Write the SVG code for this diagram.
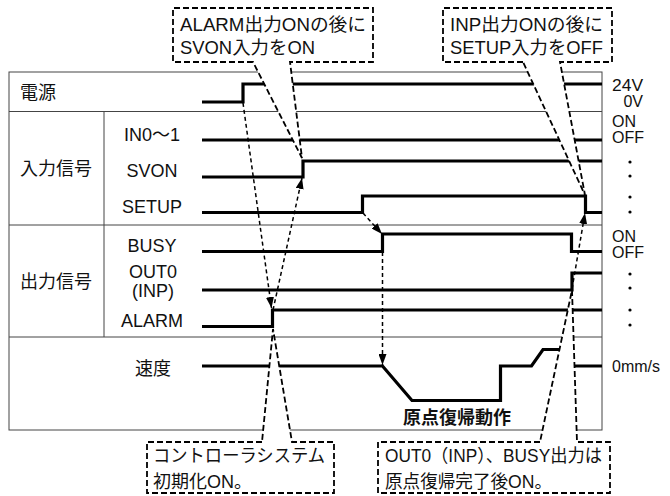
<svg xmlns="http://www.w3.org/2000/svg" width="670" height="496" viewBox="0 0 670 496">
<style>
text{font-family:"Liberation Sans","Noto Sans CJK JP",sans-serif;fill:#111;font-size:18px}
.lab{text-anchor:middle}
.side{font-size:16px}
.grid{fill:none;stroke:#444;stroke-width:1}
.sig{fill:none;stroke:#000;stroke-width:3.2;stroke-linejoin:miter}
.call{fill:#fff;stroke:#000;stroke-width:1.8;stroke-dasharray:6 3}
.arr{fill:none;stroke:#000;stroke-width:1.5;stroke-dasharray:4 3}
</style>
<defs>
<marker id="ah" markerUnits="userSpaceOnUse" markerWidth="11" markerHeight="8" refX="11" refY="4" orient="auto">
<path d="M0,0 L11,4 L0,8 Z" fill="#000"/>
</marker>
</defs>
<g id="table">
<rect class="grid" x="9" y="72" width="593" height="358"/>
<line class="grid" x1="9" y1="111.5" x2="602" y2="111.5"/>
<line class="grid" x1="9" y1="225" x2="602" y2="225"/>
<line class="grid" x1="9" y1="337" x2="602" y2="337"/>
<line class="grid" x1="104" y1="111.5" x2="104" y2="337"/>
</g>
<g id="labels">
<text x="20" y="98.5">電源</text>
<text x="56" y="174.5" class="lab">入力信号</text>
<text x="56" y="288" class="lab">出力信号</text>
<text x="152" y="141" class="lab">IN0～1</text>
<text x="152" y="177" class="lab">SVON</text>
<text x="152" y="212.5" class="lab">SETUP</text>
<text x="152" y="251.5" class="lab">BUSY</text>
<text x="153" y="277.5" class="lab">OUT0</text>
<text x="153" y="297" class="lab">(INP)</text>
<text x="152" y="326.5" class="lab">ALARM</text>
<text x="153" y="374.5" class="lab">速度</text>
<text x="457" y="424" class="lab" font-weight="bold">原点復帰動作</text>
</g>
<g id="side-labels">
<text x="612" y="91" class="side" textLength="31" lengthAdjust="spacingAndGlyphs">24V</text>
<text x="643" y="106.5" class="side" text-anchor="end">0V</text>
<text x="612" y="127" class="side">ON</text>
<text x="612" y="142.5" class="side">OFF</text>
<text x="612" y="241.5" class="side">ON</text>
<text x="612" y="257.5" class="side">OFF</text>
<text x="612" y="372" class="side">0mm/s</text>
<g fill="#000">
<circle cx="630" cy="162" r="1.6"/><circle cx="630" cy="176" r="1.6"/>
<circle cx="630" cy="197" r="1.6"/><circle cx="630" cy="212" r="1.6"/>
<circle cx="630" cy="274" r="1.6"/><circle cx="630" cy="288" r="1.6"/>
<circle cx="630" cy="310" r="1.6"/><circle cx="630" cy="325" r="1.6"/>
</g>
</g>
<g id="signals">
<path id="sig-power" class="sig" d="M202,102 H243 V84 H602"/>
<path id="sig-in01" class="sig" d="M202,140 H602"/>
<path id="sig-svon" class="sig" d="M202,177 H303 V161 H602"/>
<path id="sig-setup" class="sig" d="M202,212.5 H362.5 V196 H585.5 V212.5 H602"/>
<path id="sig-busy" class="sig" d="M202,251.5 H382.5 V234 H571.5 V251.5 H602"/>
<path id="sig-out0" class="sig" d="M202,290 H572 V273 H602"/>
<path id="sig-alarm" class="sig" d="M202,326.5 H272.5 V310 H602"/>
<path id="sig-speed" class="sig" d="M202,366 H382.5 L412,400.5 H500.5 V366 H531.5 L543,349.5 H561.5 V366 H602"/>
</g>
<g id="connectors">
<line class="arr" x1="243" y1="103" x2="271.5" y2="308" marker-end="url(#ah)"/>
<line class="arr" x1="273" y1="310" x2="302" y2="178" marker-end="url(#ah)"/>
<line class="arr" x1="363" y1="213" x2="382" y2="234" marker-end="url(#ah)"/>
<line class="arr" x1="382.5" y1="252" x2="382.5" y2="365" marker-end="url(#ah)"/>
<line class="arr" x1="572" y1="289" x2="585" y2="213" marker-end="url(#ah)"/>
</g>
<g id="callout-alarm">
<path class="call" d="M253,62 H173 V8 H373 V62 H290 L302,158 Z"/>
<text x="180" y="31" textLength="186" lengthAdjust="spacingAndGlyphs">ALARM出力ONの後に</text>
<text x="180" y="54" textLength="135" lengthAdjust="spacingAndGlyphs">SVON入力をON</text>
</g>
<g id="callout-inp">
<path class="call" d="M523,62 H443 V8 H612 V62 H560 L585,195 Z"/>
<text x="450" y="31" textLength="153" lengthAdjust="spacingAndGlyphs">INP出力ONの後に</text>
<text x="450" y="54" textLength="153" lengthAdjust="spacingAndGlyphs">SETUP入力をOFF</text>
</g>
<g id="callout-init">
<path class="call" d="M262,442 H147 V493 H334 V442 H292 L273,329 Z"/>
<text x="153" y="462" textLength="172" lengthAdjust="spacingAndGlyphs">コントローラシステム</text>
<text x="153" y="488">初期化ON。</text>
</g>
<g id="callout-home">
<path class="call" d="M540,442 H378 V493 H610 V442 H577 L572,290 Z"/>
<text x="385" y="462" textLength="217" lengthAdjust="spacingAndGlyphs">OUT0（INP）、BUSY出力は</text>
<text x="385" y="488" textLength="167" lengthAdjust="spacingAndGlyphs">原点復帰完了後ON。</text>
</g>
</svg>
